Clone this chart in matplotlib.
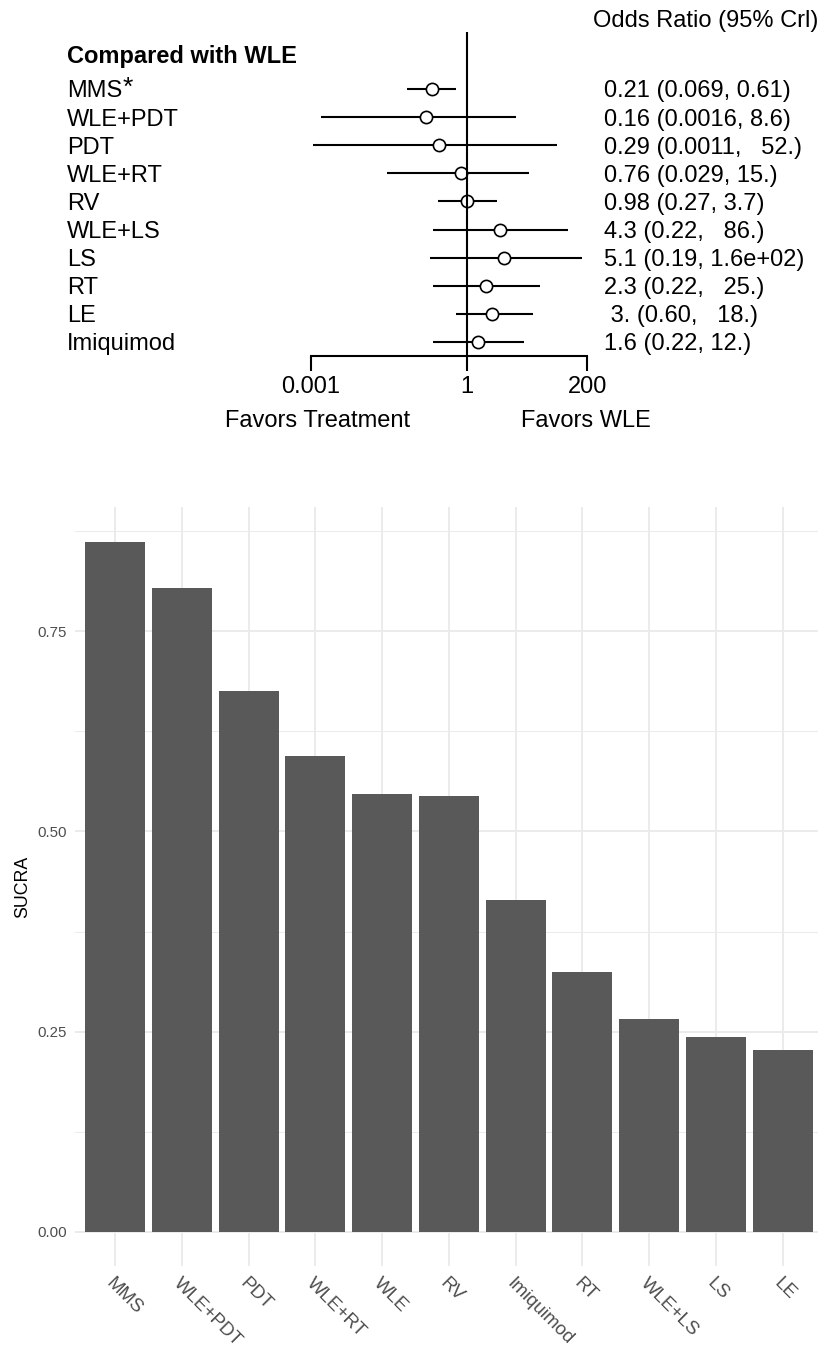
import matplotlib
matplotlib.use("Agg")
import matplotlib.pyplot as plt
import numpy as np
from matplotlib.transforms import blended_transform_factory, ScaledTranslation
from matplotlib.ticker import FixedLocator, MultipleLocator

plt.rcParams["font.family"] = ["Liberation Sans", "DejaVu Sans"]

# ---- network meta-analysis: odds ratios versus WLE ----
treatments = ["MMS", "WLE+PDT", "PDT", "WLE+RT", "RV", "WLE+LS", "LS", "RT", "LE", "Imiquimod"]
or_est = [0.21, 0.16, 0.29, 0.76, 0.98, 4.3, 5.1, 2.3, 3.0, 1.6]
or_low = [0.069, 0.0016, 0.0011, 0.029, 0.27, 0.22, 0.19, 0.22, 0.60, 0.22]
or_high = [0.61, 8.6, 52.0, 15.0, 3.7, 86.0, 160.0, 25.0, 18.0, 12.0]
or_text = ["0.21 (0.069, 0.61)", "0.16 (0.0016, 8.6)", "0.29 (0.0011,   52.)",
           "0.76 (0.029, 15.)", "0.98 (0.27, 3.7)", "4.3 (0.22,   86.)",
           "5.1 (0.19, 1.6e+02)", "2.3 (0.22,   25.)", " 3. (0.60,   18.)",
           "1.6 (0.22, 12.)"]
forest_ticks = [0.001, 1, 200]
forest_ticklabels = ["0.001", "1", "200"]

# ---- SUCRA ranking ----
sucra_names = ["MMS", "WLE+PDT", "PDT", "WLE+RT", "WLE", "RV", "Imiquimod",
               "RT", "WLE+LS", "LS", "LE"]
sucra_vals = [0.862, 0.804, 0.675, 0.594, 0.547, 0.544, 0.415, 0.325, 0.266, 0.243, 0.227]
sucra_ticks = [0.00, 0.25, 0.50, 0.75]
sucra_ticklabels = ["0.00", "0.25", "0.50", "0.75"]

W, H, DPI = 818, 1350, 100
fig = plt.figure(figsize=(W / DPI, H / DPI), dpi=DPI)


def fx(px):
    return px / W


def fy(py):
    return 1 - py / H


# ================= forest plot =================
FS = 17
row_gap = 28.1          # pixels between rows
row0 = 89.0             # pixel centre of first row
ax_top, ax_bot = 32.0, 355.7
ax_left, ax_right = 310.7, 587.3

ax1 = fig.add_axes([fx(ax_left), fy(ax_bot), (ax_right - ax_left) / W, (ax_bot - ax_top) / H])
ax1.set_xscale("log")
ax1.set_xlim(forest_ticks[0], forest_ticks[-1])
ax1.set_ylim((ax_bot - row0) / row_gap, -(row0 - ax_top) / row_gap)
rows = np.arange(len(treatments))

ax1.hlines(rows, or_low, or_high, color="black", lw=1.5, zorder=2)
ax1.plot(or_est, rows, "o", mfc="white", mec="black", ms=8.8, mew=1.2, zorder=3)
ax1.axvline(1, color="black", lw=1.5, zorder=4)

for s in ["top", "left", "right"]:
    ax1.spines[s].set_visible(False)
ax1.spines["bottom"].set_linewidth(1.5)
ax1.set_yticks([])
ax1.xaxis.set_major_locator(FixedLocator(forest_ticks))
ax1.xaxis.set_minor_locator(FixedLocator([]))
ax1.set_xticklabels(forest_ticklabels)
ax1.tick_params(axis="x", direction="out", length=10.5, width=1.5, pad=4, labelsize=FS)
ax1.patch.set_visible(False)

# text placed by baseline, shifted so the capitals centre on each row
cap_half = 0.716 * FS * DPI / 72 / 2 / DPI
row_tr = blended_transform_factory(fig.transFigure, ax1.transData) + \
    ScaledTranslation(0, -cap_half, fig.dpi_scale_trans)

for i, (name, txt) in enumerate(zip(treatments, or_text)):
    t = ax1.text(fx(66.7), i, name, transform=row_tr, ha="left", va="baseline",
                 fontsize=FS, clip_on=False)
    if i == 0:
        # superscript asterisk after the first label
        ax1.annotate("*", xy=(1.0, 1.0), xycoords=t, xytext=(0.5, 3.5),
                     textcoords="offset points", ha="left", va="top", fontsize=19)
    ax1.text(fx(604), i, txt, transform=row_tr, ha="left", va="baseline",
             fontsize=FS, clip_on=False)

fig.text(fx(592.7), fy(26.7), "Odds Ratio (95% Crl)", ha="left", va="baseline", fontsize=FS)
fig.text(fx(66.7), fy(62.7), "Compared with WLE", ha="left", va="baseline",
         fontsize=FS, fontweight="bold")
fig.text(fx(318), fy(426.7), "Favors Treatment", ha="center", va="baseline", fontsize=FS)
fig.text(fx(586), fy(426.7), "Favors WLE", ha="center", va="baseline", fontsize=FS)

# ================= SUCRA bar chart =================
grid_col = "#EBEBEB"
tick_col = "#4D4D4D"
ymax = max(sucra_vals)
p_top, p_bot = 507.2, 1266.2
p_left, cat_w = 75.0, 66.75
n = len(sucra_names)
ax2 = fig.add_axes([fx(p_left), fy(p_bot), (n + 0.2) * cat_w / W, (p_bot - p_top) / H])
x = np.arange(n)
ax2.bar(x, sucra_vals, width=0.9, color="#595959", zorder=3)
ax2.set_xlim(-0.6, n - 1 + 0.6)
ax2.set_ylim(-0.05 * ymax, 1.05 * ymax)

ax2.set_yticks(sucra_ticks)
ax2.set_yticklabels(sucra_ticklabels)
ax2.yaxis.set_minor_locator(MultipleLocator(0.125))
ax2.set_xticks(x)
ax2.set_xticklabels(sucra_names, rotation=-45, ha="left", va="top", rotation_mode="anchor")
ax2.tick_params(axis="both", which="both", length=0)
ax2.tick_params(axis="y", labelsize=10.8, labelcolor=tick_col, pad=6)
ax2.tick_params(axis="x", labelsize=13.5, labelcolor=tick_col, pad=6.5)
ax2.grid(True, which="major", color=grid_col, lw=1.4, zorder=0)
ax2.grid(True, which="minor", axis="y", color=grid_col, lw=0.7, zorder=0)
ax2.set_axisbelow(True)
for s in ax2.spines.values():
    s.set_visible(False)

fig.text(fx(23), fy((p_top + p_bot) / 2), "SUCRA", rotation=90, ha="center", va="center",
         fontsize=12.8)

fig.savefig("out.png", dpi=DPI, facecolor="white")
